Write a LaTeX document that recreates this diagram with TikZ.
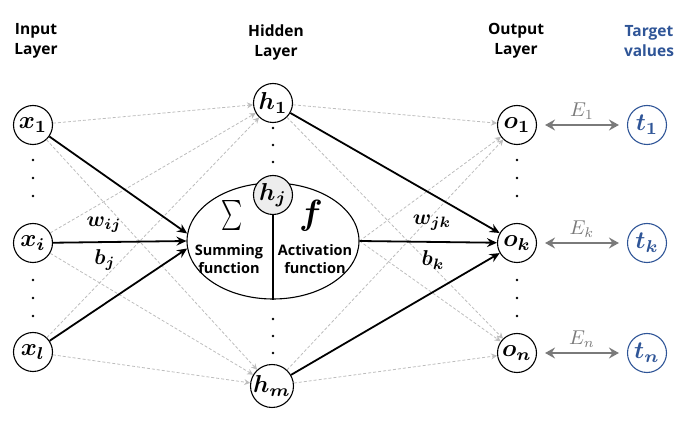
\documentclass[tikz,border=0pt]{standalone}
\usepackage{fontspec}
\usepackage{bm}
\setsansfont{Open Sans}
\usetikzlibrary{arrows.meta,shapes.geometric,calc}
\definecolor{tblue}{HTML}{2F5597}
\definecolor{egray}{HTML}{7A7A7A}
\definecolor{dgray}{HTML}{BDBDBD}
\definecolor{hjfill}{HTML}{EDEDED}
\newcommand{\nlab}[1]{\scalebox{2.45}{$\bm{#1}$}}
\newcommand{\wlab}[1]{\scalebox{2.15}{$\bm{#1}$}}
\newcommand{\elab}[1]{\scalebox{2.0}{$#1$}}
\begin{document}
\begin{tikzpicture}[x=1pt,y=-1pt,
  neuron/.style={circle,draw,line width=1.1pt,minimum size=39pt,inner sep=0pt},
  target/.style={neuron,draw=tblue,text=tblue},
  hdr/.style={font=\sffamily\bfseries\fontsize{15.5}{20}\selectfont,align=center},
  solidarr/.style={line width=1.8pt,-{Stealth[length=10pt,width=9pt,inset=3.5pt]}},
  dasharr/.style={draw=dgray,line width=0.8pt,dash pattern=on 3pt off 2pt,-{Stealth[length=6pt,width=6pt,inset=2pt]}},
  errarr/.style={draw=egray,line width=2pt,{Stealth[length=10pt,width=11pt,inset=3.5pt]}-{Stealth[length=10pt,width=11pt,inset=3.5pt]},shorten >=8pt,shorten <=8pt},
  dotnode/.style={circle,fill,inner sep=0pt,minimum size=2.8pt},
  elabel/.style={text=egray},
  fnlabel/.style={font=\sffamily\bfseries\fontsize{14.5}{18.5}\selectfont,align=center},
  bigell/.style={ellipse,line width=1.1pt,fill=white,minimum width=172pt,minimum height=116pt,inner sep=0pt}
]
\useasboundingbox (0,0) rectangle (689,422);

% headers
\node[hdr] (hin) at (36,41) {Input\\Layer};
\node[hdr] (hhid) at (276,42) {Hidden\\Layer};
\node[hdr] (hout) at (516,41) {Output\\Layer};
\node[hdr,text=tblue] (htgt) at (649,41) {Target\\values};

% input nodes
\node[neuron] (x1) at (33,125) {\nlab{x_1}};
\node[neuron] (xi) at (33,243) {\nlab{x_i}};
\node[neuron] (xl) at (33,352) {\nlab{x_l}};

% hidden nodes
\node[neuron] (h1) at (273,103) {\nlab{h_1}};
\node[neuron] (hm) at (272,386) {\nlab{h_m}};

% output nodes
\node[neuron] (o1) at (517,125) {\nlab{o_1}};
\node[neuron] (ok) at (517,243) {\nlab{o_k}};
\node[neuron] (on) at (517,353) {\nlab{o_n}};

% targets
\node[target] (t1) at (647,125) {\nlab{t_1}};
\node[target] (tk) at (647,243) {\nlab{t_k}};
\node[target] (tn) at (647,353) {\nlab{t_n}};

% ellipse position (for dashed line start)
\node[bigell,draw=none,fill=none] (ell) at (273,241) {};

% dashed connections
\foreach \s in {x1,xi,xl}{
  \draw[dasharr] (\s) -- (h1);
  \draw[dasharr] (\s) -- (hm);
}
\foreach \s in {h1,hm,ell.east}{
  \draw[dasharr] (\s) -- (o1);
  \draw[dasharr] (\s) -- (on);
}

% big hidden neuron
\node[bigell,draw] (ell2) at (273,241) {};
\node[neuron,fill=hjfill] (hj) at (273,195) {\nlab{h_j}};
\draw[line width=1.1pt] (hj.south) -- (ell2.south);
\node (sig) at (232,216) {\scalebox{2.0}[3.0]{$\sum$}};
\node (fsym) at (311,216) {\scalebox{3.5}{$\bm{f}$}};
\node[fnlabel] (sumf) at (229,259) {Summing\\function};
\node[fnlabel] (actf) at (315,259) {Activation\\function};

% solid connections
\draw[solidarr] (x1) -- (ell2.175);
\draw[solidarr] (xi) -- (ell2.180);
\draw[solidarr] (xl) -- (ell2.185);
\draw[solidarr] (h1) -- (ok);
\draw[solidarr] (ell2.east) -- (ok);
\draw[solidarr] (hm) -- (ok);

% weight labels
\node (wij) at (104,225) {\wlab{w_{ij}}};
\node (bj) at (105,260) {\wlab{b_j}};
\node (wjk) at (432,223) {\wlab{w_{jk}}};
\node (bk) at (433,260) {\wlab{b_k}};

% error arrows
\draw[errarr] (o1) -- node[elabel,above=1pt] {\elab{E_1}} (t1);
\draw[errarr] (ok) -- node[elabel,above=1pt] {\elab{E_k}} (tk);
\draw[errarr] (on) -- node[elabel,above=1pt] {\elab{E_n}} (tn);

% dots
\foreach \y [count=\n] in {160,178,196,280,298,316}{
  \node[dotnode] (din\n) at (33,\y) {};
  \node[dotnode] (dout\n) at (517,\y) {};
}
\foreach \y [count=\n] in {128,145,162,319,336,353}{
  \node[dotnode] (dhid\n) at (273,\y) {};
}
\end{tikzpicture}
\end{document}
